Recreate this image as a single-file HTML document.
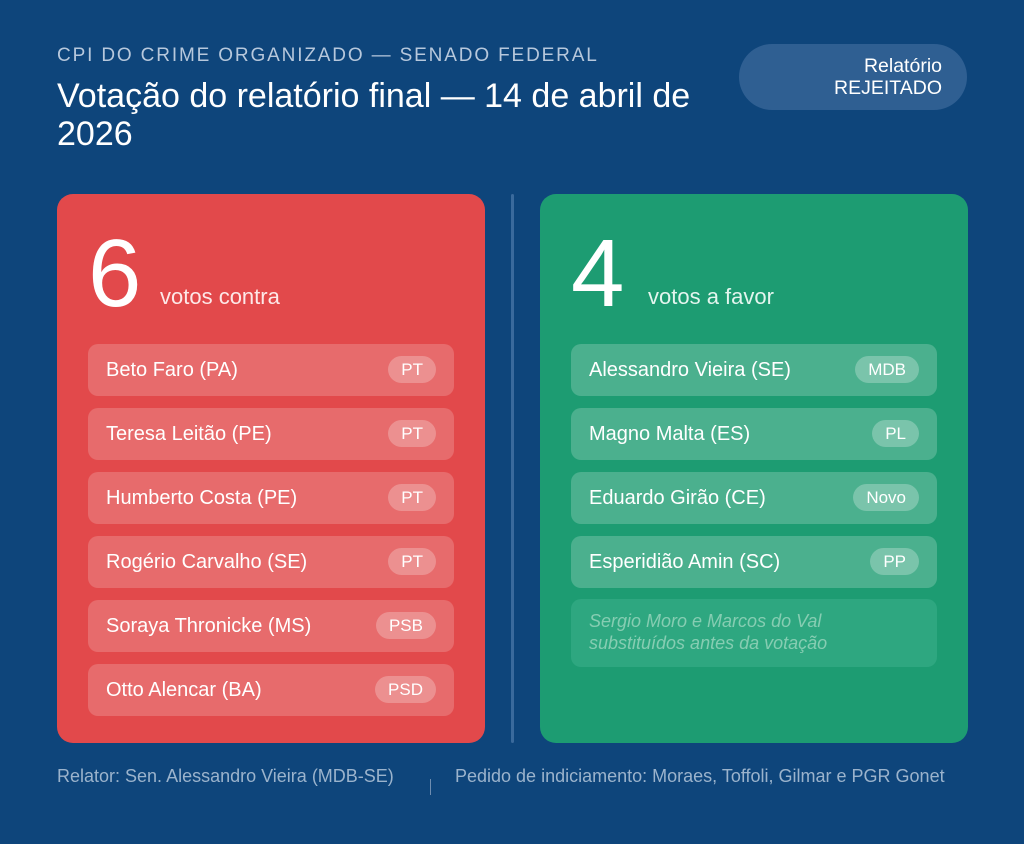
<!DOCTYPE html>
<html><head><meta charset="utf-8"><style>
*{margin:0;padding:0;box-sizing:border-box}
body{width:1024px;height:844px;background:#0e457b;font-family:"Liberation Sans",sans-serif;position:relative;overflow:hidden;color:#fff}
.abs{position:absolute}
.sub{left:57px;top:45px;font-size:19px;letter-spacing:1.85px;color:#b7c8dc;white-space:nowrap}
.title{left:57px;top:77px;width:660px;font-size:34px;line-height:38px;color:#fff}
.badge{left:739px;top:44px;width:228px;height:66px;border-radius:33px;background:#2f5f92;font-size:19.5px;line-height:22px;text-align:right;padding:11px 25px 0 0;color:#fff}
.card{top:194px;height:549px;width:428px;border-radius:16px}
.red{left:57px;background:#e2494b}
.green{left:540px;background:#1d9c72}
.div{left:511px;top:194px;width:3px;height:549px;background:#3a6a9c;border-radius:2px}
.num{top:32px;left:31px;font-size:96px;line-height:96px}
.lbl{top:90px;font-size:22px}
.row{left:31px;width:366px;height:52px;border-radius:10px;font-size:20px;padding-left:18px;line-height:52px}
.red .row{background:#e76b6c}
.green .row{background:#4bb08e}
.pill{position:absolute;right:18px;top:12px;height:27px;border-radius:14px;line-height:27px;font-size:17px;padding:0 13px}
.red .pill{background:#ec9090}
.green .pill{background:#7ac4ab}
.note{left:31px;top:405px;width:366px;height:68px;border-radius:10px;background:#2ea780;font-style:italic;font-size:18px;line-height:22px;color:#86cdb2;padding:11px 18px}
.foot{top:766px;font-size:18px;color:#9bb3cc;white-space:nowrap}
</style></head><body>
<div class="abs sub">CPI DO CRIME ORGANIZADO — SENADO FEDERAL</div>
<div class="abs title">Votação do relatório final — 14 de abril de 2026</div>
<div class="abs badge">Relatório<br>REJEITADO</div>
<div class="abs card red">
<div class="abs num">6</div><div class="abs lbl" style="left:103px;color:#fde8e8">votos contra</div>
<div class="abs row" style="top:150px">Beto Faro (PA)<span class="pill">PT</span></div>
<div class="abs row" style="top:214px">Teresa Leitão (PE)<span class="pill">PT</span></div>
<div class="abs row" style="top:278px">Humberto Costa (PE)<span class="pill">PT</span></div>
<div class="abs row" style="top:342px">Rogério Carvalho (SE)<span class="pill">PT</span></div>
<div class="abs row" style="top:406px">Soraya Thronicke (MS)<span class="pill">PSB</span></div>
<div class="abs row" style="top:470px">Otto Alencar (BA)<span class="pill">PSD</span></div>
</div>
<div class="abs div"></div>
<div class="abs card green">
<div class="abs num">4</div><div class="abs lbl" style="left:108px;color:#e3f5ee">votos a favor</div>
<div class="abs row" style="top:150px">Alessandro Vieira (SE)<span class="pill">MDB</span></div>
<div class="abs row" style="top:214px">Magno Malta (ES)<span class="pill">PL</span></div>
<div class="abs row" style="top:278px">Eduardo Girão (CE)<span class="pill">Novo</span></div>
<div class="abs row" style="top:342px">Esperidião Amin (SC)<span class="pill">PP</span></div>
<div class="abs note">Sergio Moro e Marcos do Val<br>substituídos antes da votação</div>
</div>
<div class="abs foot" style="left:57px">Relator: Sen. Alessandro Vieira (MDB-SE)</div>
<div class="abs" style="left:430px;top:779px;width:1px;height:16px;background:#6e8db0"></div>
<div class="abs foot" style="left:455px">Pedido de indiciamento: Moraes, Toffoli, Gilmar e PGR Gonet</div>
</body></html>
